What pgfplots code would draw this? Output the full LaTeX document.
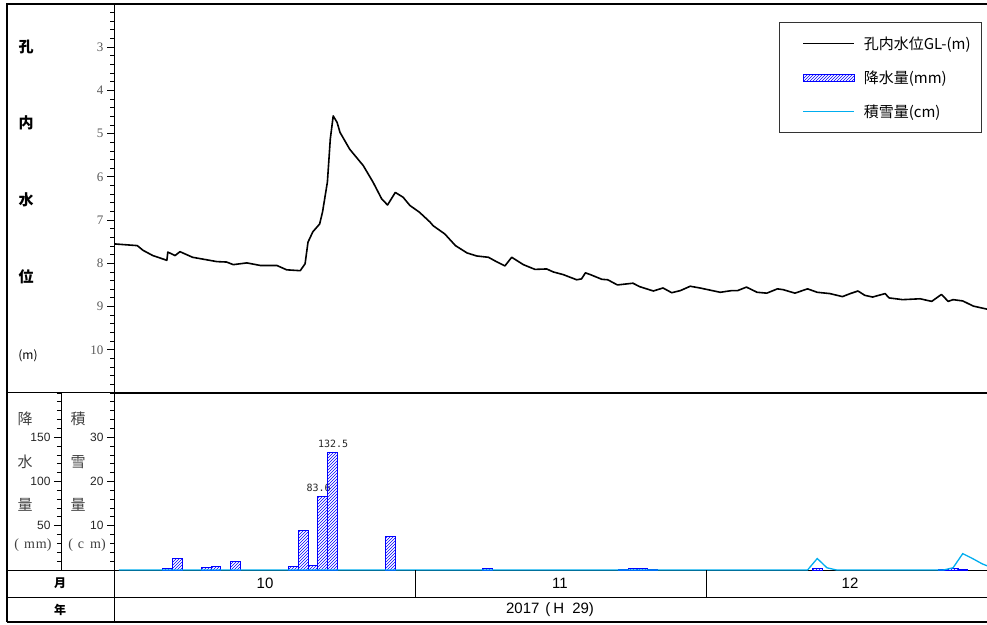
\documentclass[border=0pt]{standalone}
\usepackage{fontspec}
\setmainfont{Liberation Sans}
\newfontfamily\cjk{Noto Sans CJK JP}
\newfontfamily\lserif{Liberation Serif}
\newfontfamily\dmono{DejaVu Sans Mono}
\usepackage{pgfplots}
\pgfplotsset{compat=1.18}
\usetikzlibrary{patterns}

\pgfplotstableread{
d lv
0.0 7.55
2.4 7.59
3.0 7.70
4.0 7.82
5.45 7.93
5.55 7.74
6.3 7.82
6.8 7.73
8.1 7.86
10.6 7.96
11.6 7.97
12.3 8.03
13.7 7.99
15.1 8.05
16.8 8.05
17.8 8.15
19.2 8.17
19.7 8.01
20.0 7.51
20.5 7.27
21.2 7.09
21.5 6.81
22.0 6.12
22.3 5.12
22.6 4.59
23.0 4.74
23.3 4.97
24.3 5.36
25.7 5.74
26.7 6.12
27.6 6.51
28.2 6.65
29.0 6.36
29.8 6.47
30.5 6.66
31.5 6.82
32.6 7.05
32.9 7.13
34.1 7.32
35.2 7.59
36.4 7.76
37.4 7.83
38.6 7.86
39.5 7.97
40.3 8.06
41.0 7.86
42.2 8.03
43.4 8.14
44.6 8.13
45.3 8.20
46.3 8.26
47.7 8.38
48.2 8.36
48.6 8.22
49.1 8.26
50.3 8.37
50.9 8.38
51.9 8.50
53.5 8.46
54.2 8.54
55.6 8.64
56.6 8.57
57.5 8.68
58.4 8.63
59.4 8.53
60.4 8.57
62.5 8.67
63.7 8.63
64.3 8.63
65.2 8.55
66.3 8.67
67.3 8.69
68.4 8.59
69.0 8.61
70.2 8.69
71.5 8.59
72.5 8.67
73.8 8.70
75.1 8.77
75.9 8.70
76.7 8.64
77.4 8.74
78.2 8.78
79.5 8.70
79.9 8.80
81.3 8.84
83.1 8.82
84.3 8.88
85.3 8.72
86.0 8.88
86.5 8.84
87.5 8.87
88.6 8.99
89.8 9.05
90.0 9.06
}\levels

\pgfplotstableread{
d p
5.5 1.5
6.5 13.2
9.5 3.0
10.5 4.5
12.5 9.4
18.5 4.5
19.5 44.4
20.5 5.0
21.5 83.6
22.5 132.5
28.5 37.7
38.5 1.5
52.5 0.5
53.5 1.5
54.5 1.5
55.5 0.5
72.5 2.0
85.5 1.0
86.5 1.5
87.5 0.5
}\rain

\pgfplotstableread{
d s
0.5 0
71.5 0
72.5 2.6
73.5 0.5
74.5 0
85.5 0
86.5 0.5
87.5 3.7
88.5 2.6
89.5 1.4
90.5 0.5
}\snow

\pgfplotsset{
  ticky/.style={
    tick align=outside, major tick length=7pt, minor tick length=4pt,
    major tick style={black, line width=1.2pt},
    minor tick style={black, line width=0.9pt},
  }
}

\begin{document}
\begin{tikzpicture}[x=1pt,y=1pt]
\path[use as bounding box] (0,0) rectangle (987,624);

% ---------- top panel: water level ----------
\begin{axis}[at={(114pt,231pt)}, anchor=south west, scale only axis,
  width=873pt, height=389pt,
  xmin=0, xmax=90, ymin=2, ymax=11, y dir=reverse,
  xtick=\empty, ytick={3,4,...,10}, minor ytick={2,2.2,...,11.01},
  ticky,
  yticklabel style={font=\lserif\fontsize{13}{13}\selectfont, text=black!65},
  /pgf/number format/assume math mode=true,
  axis line style={line width=1pt},
  legend image code/.code={\path (-14pt,0pt); \draw[#1] (0pt,0pt) -- (51pt,0pt);},
  legend cell align=left,
  legend style={at={(0.9943,0.9537)}, anchor=north east, draw=black!80,
    line width=0.8pt, inner xsep=9pt, inner ysep=12pt,
    font=\cjk\fontsize{15}{17}\selectfont, row sep=16pt,
    /tikz/every odd column/.append style={column sep=7pt}},
]
\addplot[black, line width=1.6pt, line join=round] table[x=d, y=lv] {\levels};
\addlegendentry{孔内水位GL-(m)}
\addlegendimage{legend image code/.code={\path (-14pt,0pt); \draw[pattern=north east lines, pattern color=blue, draw=blue, line width=0.8pt] (0pt,-3.5pt) rectangle (51pt,3.5pt);}}
\addlegendentry{降水量(mm)}
\addlegendimage{cyan, line width=1pt}
\addlegendentry{積雪量(cm)}
\end{axis}

% ---------- bottom panel: precipitation bars ----------
\begin{axis}[at={(114pt,54pt)}, anchor=south west, scale only axis,
  width=873pt, height=177pt,
  xmin=0, xmax=90, ymin=0, ymax=200,
  xtick=\empty, ytick=\empty,
  axis line style={line width=1pt},
]
\node[font=\dmono\fontsize{10}{10}\selectfont, text=black!85, anchor=south] at (axis cs:21.1,84) {83.6};
\addplot[ybar, bar width=1, draw=blue, line width=0.8pt,
  pattern=north east lines, pattern color=blue] table[x=d, y=p] {\rain};
\node[font=\dmono\fontsize{10}{10}\selectfont, text=black!85, anchor=south] at (axis cs:22.6,134) {132.5};
\end{axis}

% ---------- bottom panel: snow depth scale (cm) ----------
\begin{axis}[at={(114pt,54pt)}, anchor=south west, scale only axis,
  width=873pt, height=177pt,
  xmin=0, xmax=90, ymin=0, ymax=40,
  hide x axis, axis y line*=left,
  ytick={10,20,30}, minor ytick={0,2,...,40},
  ticky,
  yticklabel style={font=\fontsize{12}{12}\selectfont, text=black!85},
  /pgf/number format/assume math mode=true,
  axis line style={line width=1pt},
]
\addplot[cyan, line width=1.3pt] table[x=d, y=s] {\snow};
\end{axis}

% ---------- bottom panel: precipitation scale (mm) ----------
\begin{axis}[at={(61pt,54pt)}, anchor=south west, scale only axis,
  width=53pt, height=177pt,
  xmin=0, xmax=1, ymin=0, ymax=200,
  hide x axis, axis y line*=left,
  ytick={50,100,150}, minor ytick={0,10,...,200},
  ticky,
  yticklabel style={font=\fontsize{12}{12}\selectfont, text=black!85},
  /pgf/number format/assume math mode=true,
  axis line style={line width=1pt},
]
\addplot[draw=none] coordinates {(0.5,0)};
\end{axis}

% ---------- frame and table ----------
\draw[line width=1.4pt] (7,2) -- (7,620) -- (995,620);
\draw[line width=1.4pt] (7,2) -- (995,2);
\draw[line width=1pt] (7,231) -- (995,231);
\draw[line width=1pt] (7,54) -- (114,54);
\draw[line width=1pt] (7,27) -- (995,27);
\draw[line width=1pt] (114,2) -- (114,620);
\draw[line width=1pt] (61,54) -- (61,231);
\draw[line width=1pt] (415,27) -- (415,54);
\draw[line width=1pt] (706,27) -- (706,54);

% left labels (top)
\begin{scope}[every node/.style={font=\cjk\bfseries\fontsize{15}{15}\selectfont}]
\node at (26,577) {孔};
\node at (26,501) {内};
\node at (26,424) {水};
\node at (26,347) {位};
\end{scope}
\node[font=\cjk\fontsize{12}{12}\selectfont] at (28,268) {(m)};

% left labels (bottom)
\begin{scope}[every node/.style={font=\cjk\fontsize{15}{15}\selectfont, text=black!75}]
\node at (25,205) {降};
\node at (25,162) {水};
\node at (25,119) {量};
\node at (78,205) {積};
\node at (78,162) {雪};
\node at (78,119) {量};
\end{scope}
\node[font=\lserif\fontsize{14}{14}\selectfont, text=black!75] at (33,79) {(\hspace{5pt}m\hspace{1pt}m)};
\node[font=\lserif\fontsize{14}{14}\selectfont, text=black!75] at (87,79) {(\hspace{5pt}c\hspace{6pt}m)};

% table texts
\node[font=\cjk\bfseries\fontsize{12}{12}\selectfont] at (60,41) {月};
\node[font=\cjk\bfseries\fontsize{12}{12}\selectfont] at (60,14) {年};
\node[font=\fontsize{15}{15}\selectfont] at (265,41) {10};
\node[font=\fontsize{15}{15}\selectfont] at (560,41) {11};
\node[font=\fontsize{15}{15}\selectfont] at (850,41) {12};
\node[font=\fontsize{15}{15}\selectfont] at (550,14) {2017\hspace{6pt}(\hspace{3pt}H\hspace{8pt}29)};
\end{tikzpicture}
\end{document}
